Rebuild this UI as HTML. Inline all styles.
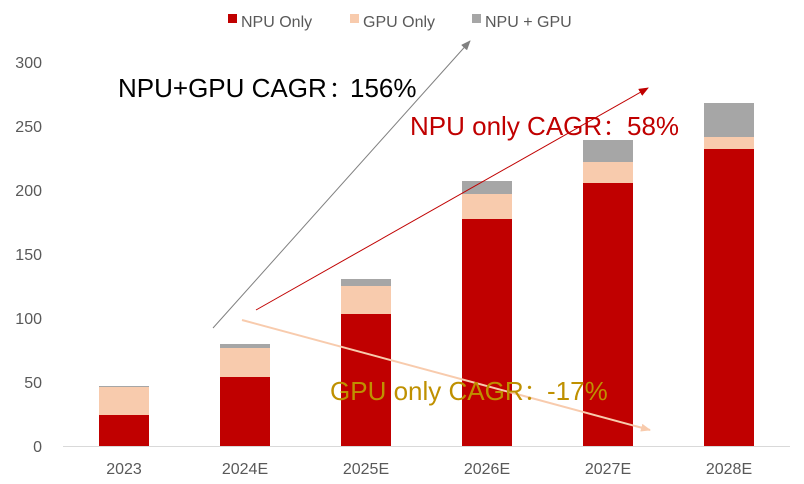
<!DOCTYPE html>
<html><head><style>body{margin:0;background:#fff}svg{display:block}</style></head><body>
<svg width="804" height="484" xmlns="http://www.w3.org/2000/svg" font-family="Liberation Sans, Noto Sans CJK SC, sans-serif">
<defs>
<marker id="ag" markerWidth="10" markerHeight="8" refX="9" refY="4" orient="auto" markerUnits="userSpaceOnUse"><path d="M0,0 L10,4 L0,8 z" fill="#808080"/></marker>
<marker id="ar" markerWidth="10" markerHeight="8" refX="9" refY="4" orient="auto" markerUnits="userSpaceOnUse"><path d="M0,0 L10,4 L0,8 z" fill="#c00000"/></marker>
<marker id="ap" markerWidth="10" markerHeight="8" refX="9" refY="4" orient="auto" markerUnits="userSpaceOnUse"><path d="M0,0 L10,4 L0,8 z" fill="#f8cbad"/></marker>
</defs>
<g font-size="16" fill="#595959">
<rect x="228" y="14" width="9" height="9" fill="#c00000"/><text x="241" y="27">NPU Only</text>
<rect x="350" y="14" width="9" height="9" fill="#f8cbad"/><text x="363" y="27">GPU Only</text>
<rect x="472" y="14" width="9" height="9" fill="#a6a6a6"/><text x="485" y="27">NPU + GPU</text>
<g text-anchor="end">
<text x="42" y="68">300</text><text x="42" y="132">250</text><text x="42" y="196">200</text>
<text x="42" y="260">150</text><text x="42" y="324">100</text><text x="42" y="388">50</text><text x="42" y="452">0</text>
</g>
<g text-anchor="middle">
<text x="124" y="474">2023</text><text x="245" y="474">2024E</text><text x="366" y="474">2025E</text>
<text x="487" y="474">2026E</text><text x="608" y="474">2027E</text><text x="729" y="474">2028E</text>
</g>
</g>
<line x1="63" y1="446.5" x2="790" y2="446.5" stroke="#d9d9d9"/>
<g>
<rect x="99" y="415" width="50" height="31" fill="#c00000"/><rect x="99" y="387" width="50" height="28" fill="#f8cbad"/><rect x="99" y="386" width="50" height="1" fill="#a6a6a6"/>
<rect x="220" y="377" width="50" height="69" fill="#c00000"/><rect x="220" y="348" width="50" height="29" fill="#f8cbad"/><rect x="220" y="344" width="50" height="4" fill="#a6a6a6"/>
<rect x="341" y="314" width="50" height="132" fill="#c00000"/><rect x="341" y="286" width="50" height="28" fill="#f8cbad"/><rect x="341" y="279" width="50" height="7" fill="#a6a6a6"/>
<rect x="462" y="219" width="50" height="227" fill="#c00000"/><rect x="462" y="194" width="50" height="25" fill="#f8cbad"/><rect x="462" y="181" width="50" height="13" fill="#a6a6a6"/>
<rect x="583" y="183" width="50" height="263" fill="#c00000"/><rect x="583" y="162" width="50" height="21" fill="#f8cbad"/><rect x="583" y="140" width="50" height="22" fill="#a6a6a6"/>
<rect x="704" y="149" width="50" height="297" fill="#c00000"/><rect x="704" y="137" width="50" height="12" fill="#f8cbad"/><rect x="704" y="103" width="50" height="34" fill="#a6a6a6"/>
</g>
<line x1="213" y1="328" x2="470" y2="41" stroke="#808080" stroke-width="1" marker-end="url(#ag)"/>
<line x1="256" y1="310" x2="648" y2="88" stroke="#c00000" stroke-width="1" marker-end="url(#ar)"/>
<line x1="242" y1="320" x2="650" y2="430" stroke="#f8cbad" stroke-width="2" marker-end="url(#ap)"/>
<text x="118" y="97" font-size="26" fill="#000">NPU+GPU CAGR<tspan x="329" font-size="22">：</tspan><tspan x="350">156%</tspan></text>
<text x="410" y="135" font-size="26" fill="#c00000">NPU only CAGR<tspan x="603" font-size="22">：</tspan><tspan x="627">58%</tspan></text>
<text x="330" y="400" font-size="26" fill="#bf9000">GPU only CAGR<tspan x="524" font-size="22">：</tspan><tspan x="547">-17%</tspan></text>
</svg>
</body></html>
